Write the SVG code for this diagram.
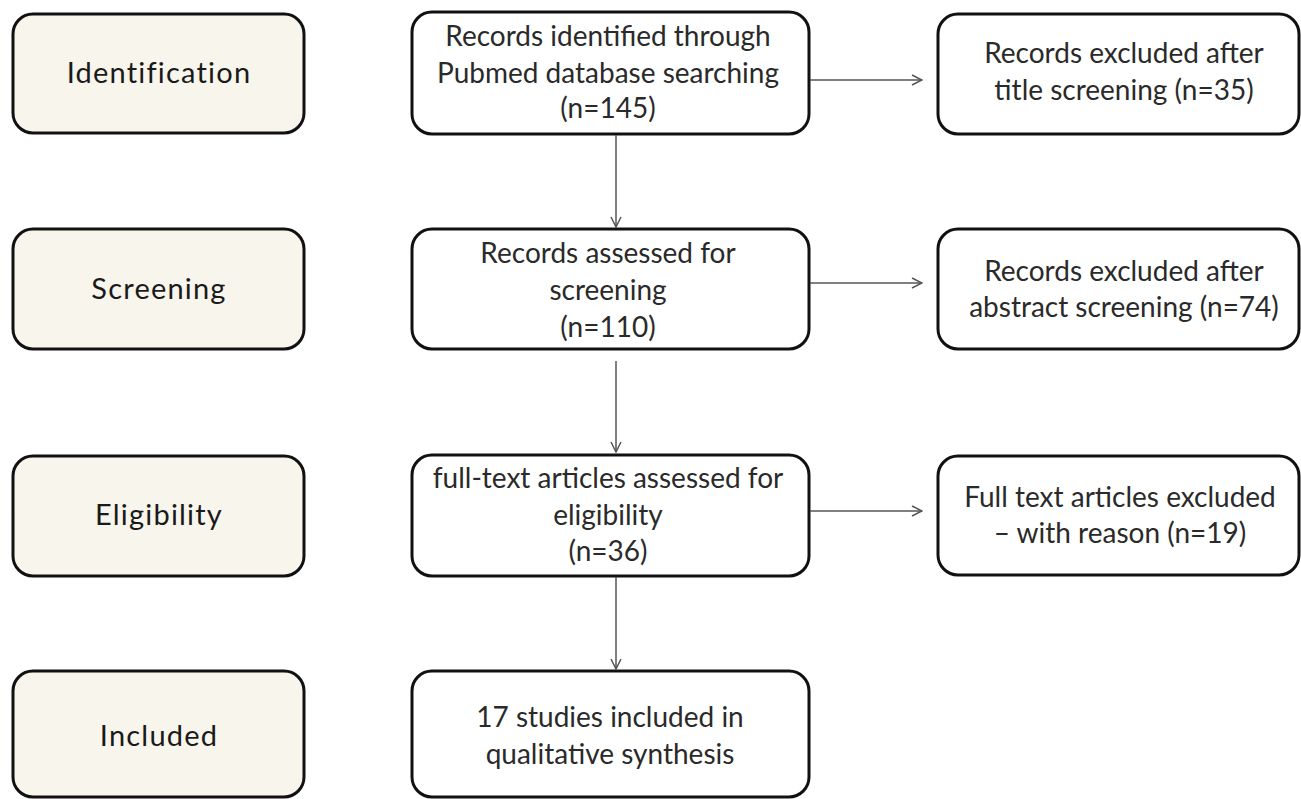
<svg xmlns="http://www.w3.org/2000/svg" width="1301" height="799" viewBox="0 0 1301 799">
<defs>
<style>
.box{fill:#ffffff;stroke:#111;stroke-width:3}
.stage{fill:#f8f6ec;stroke:#111;stroke-width:3}
.t{font-family:Lato,"Liberation Sans",sans-serif;font-size:28px;fill:#2a2a2a;text-anchor:middle}
.st{font-family:Lato,"Liberation Sans",sans-serif;font-size:29px;letter-spacing:1.2px;fill:#1a1a1a;text-anchor:middle}
.c{stroke:#555;stroke-width:1.5;fill:none;marker-end:url(#ah)}
</style>
<marker id="ah" viewBox="0 0 12 12" refX="11" refY="6" markerWidth="12" markerHeight="12" markerUnits="userSpaceOnUse" orient="auto">
<path d="M1,1 L11,6 L1,11" fill="none" stroke="#555" stroke-width="1.5"/>
</marker>
</defs>
<rect width="1301" height="799" fill="#ffffff"/>
<g id="stage-identification"><rect class="stage" x="13" y="14" width="291" height="119" rx="20"/><text class="st" x="159" y="83">Identification</text></g>
<g id="stage-screening"><rect class="stage" x="13" y="229" width="291" height="120" rx="20"/><text class="st" x="159" y="299">Screening</text></g>
<g id="stage-eligibility"><rect class="stage" x="13" y="456" width="291" height="120" rx="20"/><text class="st" x="159" y="525">Eligibility</text></g>
<g id="stage-included"><rect class="stage" x="13" y="671" width="291" height="126" rx="20"/><text class="st" x="159" y="746">Included</text></g>

<g id="identified"><rect class="box" x="412" y="12" width="397" height="122" rx="20"/>
<text class="t" x="608" y="46">Records identified through</text>
<text class="t" x="608" y="83">Pubmed database searching</text>
<text class="t" x="608" y="118">(n=145)</text></g>
<g id="assessed"><rect class="box" x="412" y="229" width="397" height="120" rx="20"/>
<text class="t" x="608" y="263">Records assessed for</text>
<text class="t" x="608" y="300">screening</text>
<text class="t" x="608" y="337">(n=110)</text></g>
<g id="fulltext"><rect class="box" x="412" y="455" width="397" height="121" rx="20"/>
<text class="t" x="608" y="488">full-text articles assessed for</text>
<text class="t" x="608" y="525">eligibility</text>
<text class="t" x="608" y="561">(n=36)</text></g>
<g id="included"><rect class="box" x="412" y="671" width="397" height="126" rx="20"/>
<text class="t" x="610" y="727">17 studies included in</text>
<text class="t" x="610" y="764">qualitative synthesis</text></g>

<g id="excl-title"><rect class="box" x="938" y="14" width="361" height="120" rx="20"/>
<text class="t" x="1124" y="63">Records excluded after</text>
<text class="t" x="1124" y="100">title screening (n=35)</text></g>
<g id="excl-abstract"><rect class="box" x="938" y="229" width="361" height="120" rx="20"/>
<text class="t" x="1124" y="281">Records excluded after</text>
<text class="t" x="1124" y="317">abstract screening (n=74)</text></g>
<g id="excl-fulltext"><rect class="box" x="938" y="456" width="361" height="119" rx="20"/>
<text class="t" x="1120" y="507">Full text articles excluded</text>
<text class="t" x="1120" y="543">– with reason (n=19)</text></g>

<g id="connectors">
<line class="c" x1="616" y1="135" x2="616" y2="227"/>
<line class="c" x1="616" y1="361" x2="616" y2="452"/>
<line class="c" x1="616" y1="577" x2="616" y2="669"/>
<line class="c" x1="810" y1="80" x2="922" y2="80"/>
<line class="c" x1="810" y1="283" x2="922" y2="283"/>
<line class="c" x1="810" y1="511" x2="922" y2="511"/>
</g>
</svg>
